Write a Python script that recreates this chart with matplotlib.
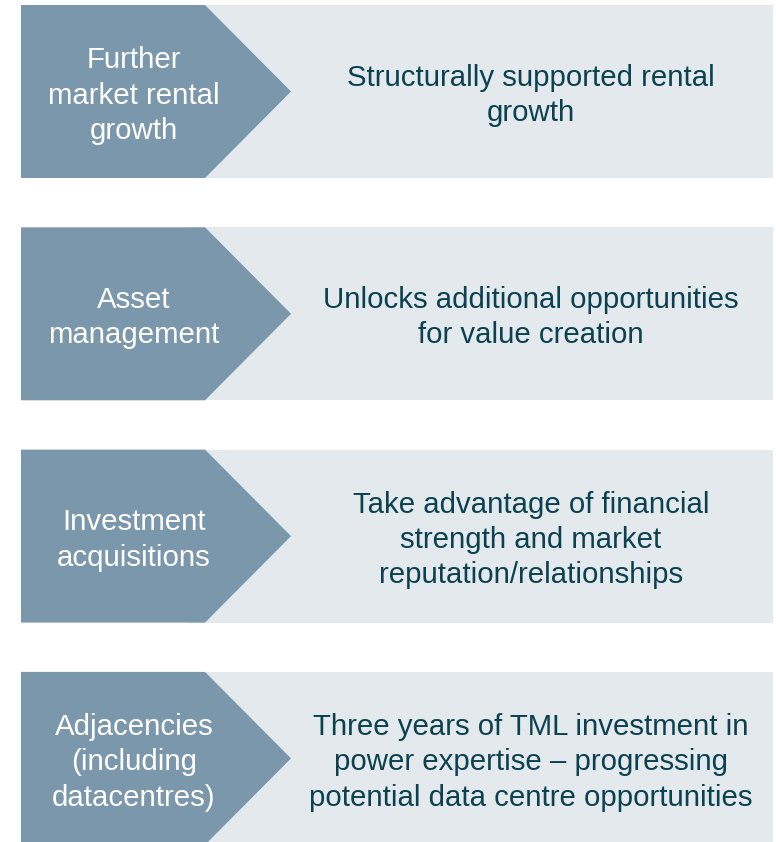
import matplotlib
matplotlib.use('Agg')
import matplotlib.pyplot as plt
from matplotlib.patches import Polygon, Rectangle

plt.rcParams['font.family'] = ['Liberation Sans', 'DejaVu Sans']

# data
drivers = [
    'Further\nmarket rental\ngrowth',
    'Asset\nmanagement',
    'Investment\nacquisitions',
    'Adjacencies\n(including\ndatacentres)',
]
details = [
    'Structurally supported rental\ngrowth',
    'Unlocks additional opportunities\nfor value creation',
    'Take advantage of financial\nstrength and market\nreputation/relationships',
    'Three years of TML investment in\npower expertise \u2013 progressing\npotential data centre opportunities',
]

# style
W, H = 776, 842
c_arrow = '#7b97ab'
c_bg = '#e4e9ee'
c_txt = '#0c4250'
fs = 21.2

fig = plt.figure(figsize=(W / 100, H / 100), dpi=100)
ax = fig.add_axes([0, 0, 1, 1])
ax.set_xlim(0, W)
ax.set_ylim(H, 0)
ax.axis('off')

top0, row_h, step = 5, 173, 222.3
for i, (lab, det) in enumerate(zip(drivers, details)):
    y0 = top0 + i * step
    y1 = y0 + row_h
    ym = (y0 + y1) / 2
    ax.add_patch(Rectangle((188, y0), 585, row_h, fc=c_bg, ec='none'))
    ax.add_patch(Polygon([(21, y0), (205, y0), (291, ym), (205, y1), (21, y1)],
                         closed=True, fc=c_arrow, ec='none'))
    ax.text(134, ym + 4, lab, ha='center', va='center', color='white',
            fontsize=fs, linespacing=1.33)
    ax.text(531, ym + 4, det, ha='center', va='center', color=c_txt,
            fontsize=fs, linespacing=1.33)

fig.savefig('out.png', dpi=100)
